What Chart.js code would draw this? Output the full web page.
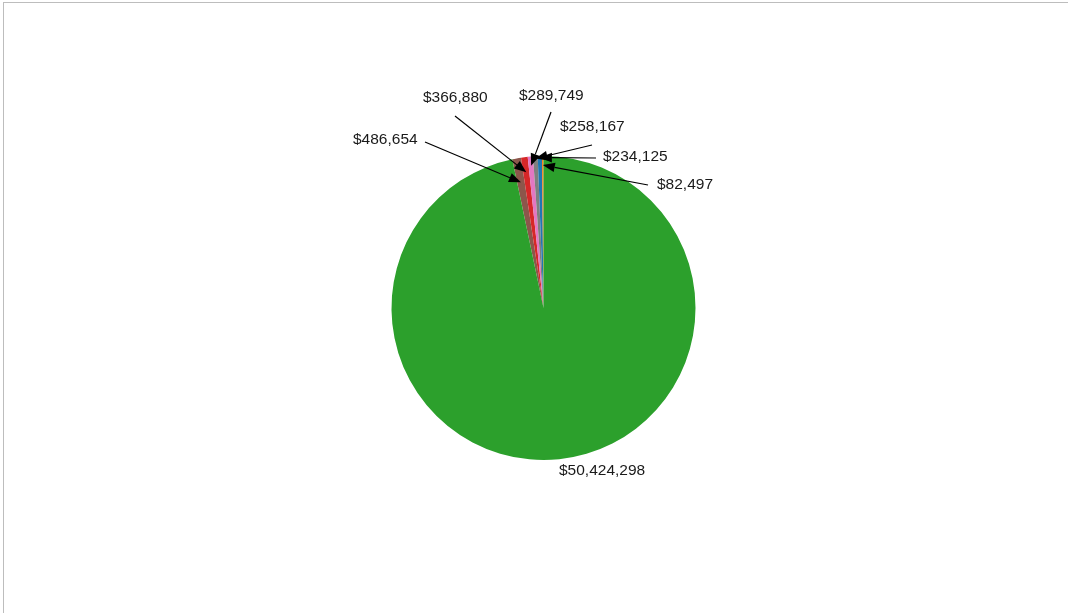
<!DOCTYPE html>
<html>
<head>
<meta charset="utf-8">
<script src="https://cdn.jsdelivr.net/npm/chart.js@4/dist/chart.umd.min.js"></script>
<style>
  html, body { margin: 0; padding: 0; background: #fff; }
  #wrap { position: relative; width: 1068px; height: 613px; }
  #frame { position: absolute; left: 3px; top: 2px; right: 0; bottom: 0;
           border-top: 1px solid #bdbdbd; border-left: 1px solid #bdbdbd; }
  canvas { position: absolute; left: 0; top: 0; }
</style>
</head>
<body>
<div id="wrap">
  <div id="frame"></div>
  <canvas id="pie" width="1068" height="613"></canvas>
</div>
<script>
// slices in clockwise order, starting just left of 12 o'clock
const categories = ['Category 6', 'Category 5', 'Category 4', 'Category 3', 'Category 2', 'Category 1', 'Category 7'];
const values = [486654, 366880, 289749, 258167, 234125, 82497, 50424298];
const sliceColors = ['#8c564b', '#d62728', '#e377c2', '#7f7f7f', '#1f77b4', '#ff7f0e', '#2ca02c'];

// annotation layout, offsets from the pie centre (text left/middle, arrow start, tip radius share)
const labelLayout = [
    { text: [-190.5, -168], from: [-118.5, -166], tip: 0.84 },
    { text: [-120.5, -210], from: [-88.5, -192], tip: 0.90 },
    { text: [-24.5, -212], from: [7.5, -196], tip: 0.94 },
    { text: [16.5, -181], from: [48.5, -163], tip: 0.985 },
    { text: [59.5, -151], from: [52.5, -150], tip: 0.99 },
    { text: [113.5, -123], from: [104.5, -123], tip: 0.94 },
    { text: [15.5, 163], from: null, tip: null }
];

function money(v) {
    return '$' + v.toLocaleString('en-US');
}

const annotations = {
    id: 'annotations',
    afterDraw(chart) {
        const ctx = chart.ctx;
        const arcs = chart.getDatasetMeta(0).data;
        ctx.save();
        ctx.font = '15.5px "Liberation Sans", Arial, sans-serif';
        ctx.textAlign = 'left';
        ctx.textBaseline = 'middle';
        ctx.fillStyle = '#1a1a1a';
        ctx.strokeStyle = '#000';
        ctx.lineWidth = 1.2;
        arcs.forEach((arc, i) => {
            const lay = labelLayout[i];
            const cx = arc.x, cy = arc.y;
            ctx.fillText(money(values[i]), cx + lay.text[0], cy + lay.text[1]);
            if (!lay.from) return;
            const mid = (arc.startAngle + arc.endAngle) / 2;
            const r = arc.outerRadius * lay.tip;
            const tx = cx + Math.cos(mid) * r;
            const ty = cy + Math.sin(mid) * r;
            const sx = cx + lay.from[0], sy = cy + lay.from[1];
            const ang = Math.atan2(ty - sy, tx - sx);
            const headLen = 12, headHalf = 4.8;
            const bx = tx - Math.cos(ang) * headLen;
            const by = ty - Math.sin(ang) * headLen;
            ctx.beginPath();
            ctx.moveTo(sx, sy);
            ctx.lineTo(bx, by);
            ctx.stroke();
            ctx.fillStyle = '#000';
            ctx.beginPath();
            ctx.moveTo(tx, ty);
            ctx.lineTo(bx + Math.sin(ang) * headHalf, by - Math.cos(ang) * headHalf);
            ctx.lineTo(bx - Math.sin(ang) * headHalf, by + Math.cos(ang) * headHalf);
            ctx.closePath();
            ctx.fill();
            ctx.fillStyle = '#1a1a1a';
        });
        ctx.restore();
    }
};

const total = values.reduce((a, b) => a + b, 0);
const startRotation = -((total - values[values.length - 1]) / total) * 360;

new Chart(document.getElementById('pie'), {
    type: 'pie',
    data: {
        labels: categories,
        datasets: [{
            data: values,
            backgroundColor: sliceColors,
            borderWidth: 0
        }]
    },
    options: {
        responsive: false,
        animation: false,
        rotation: startRotation,
        layout: { padding: { top: 156, bottom: 153, left: 100, right: 81 } },
        plugins: {
            legend: { display: false },
            tooltip: { enabled: false }
        }
    },
    plugins: [annotations]
});
</script>
</body>
</html>
